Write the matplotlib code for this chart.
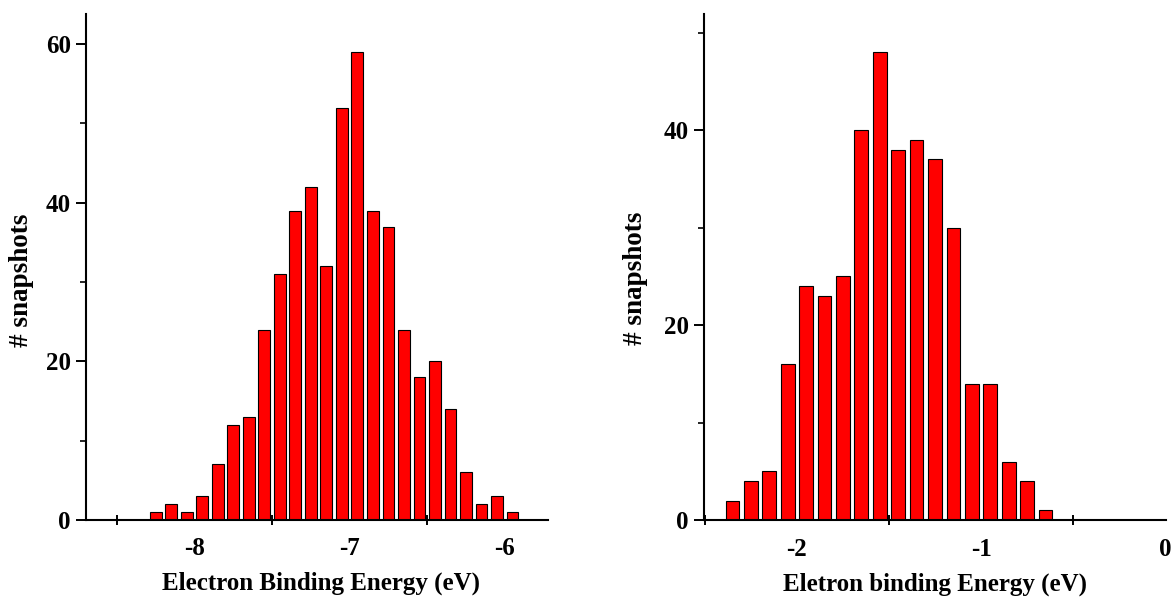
import matplotlib
matplotlib.use("Agg")
import matplotlib.pyplot as plt
from matplotlib.ticker import FixedLocator, NullFormatter

# Left histogram: Electron Binding Energy (eV)
left_centers = [-8.25, -8.15, -8.05, -7.95, -7.85, -7.75, -7.65, -7.55, -7.45, -7.35,
                -7.25, -7.15, -7.05, -6.95, -6.85, -6.75, -6.65, -6.55, -6.45, -6.35,
                -6.25, -6.15, -6.05, -5.95]
left_counts = [1, 2, 1, 3, 7, 12, 13, 24, 31, 39, 42, 32, 52, 59, 39, 37, 24, 18, 20, 14,
               6, 2, 3, 1]

# Right histogram: Eletron binding Energy (eV)
right_centers = [-2.35, -2.25, -2.15, -2.05, -1.95, -1.85, -1.75, -1.65, -1.55, -1.45,
                 -1.35, -1.25, -1.15, -1.05, -0.95, -0.85, -0.75, -0.65]
right_counts = [2, 4, 5, 16, 24, 23, 25, 40, 48, 38, 39, 37, 30, 14, 14, 6, 4, 1]

left_xticks = [-8, -7, -6]
left_xminor = [-8.5, -7.5, -6.5]
left_yticks = [0, 20, 40, 60]
left_yminor = [10, 30, 50]
right_xticks = [-2, -1, 0]
right_xminor = [-2.5, -1.5, -0.5]
right_yticks = [0, 20, 40]
right_yminor = [10, 30, 50]

plt.rcParams['font.family'] = ['Liberation Serif', 'DejaVu Serif']
plt.rcParams['font.weight'] = 'bold'
plt.rcParams['axes.unicode_minus'] = False

fig = plt.figure(figsize=(11.75, 5.97), dpi=100)
W, H = 1175, 597
axL = fig.add_axes([86 / W, 1 - 520 / H, (548 - 86) / W, (520 - 14) / H])
axR = fig.add_axes([704 / W, 1 - 520 / H, (1166 - 704) / W, (520 - 14) / H])


def style(ax, centers, counts, xlim, ylim, xt, xm, yt, ym, xlabel,
          xpad, xlab_xy, ylab_xy):
    ax.bar(centers, counts, width=0.075, color='#ff0000', edgecolor='black', linewidth=0.8)
    ax.set_xlim(*xlim)
    ax.set_ylim(*ylim)
    for s in ('top', 'right'):
        ax.spines[s].set_visible(False)
    for s in ('left', 'bottom'):
        ax.spines[s].set_linewidth(1.5)
    ax.xaxis.set_major_locator(FixedLocator(xt))
    ax.xaxis.set_minor_locator(FixedLocator(xm))
    ax.yaxis.set_major_locator(FixedLocator(yt))
    ax.yaxis.set_minor_locator(FixedLocator(ym))
    ax.xaxis.set_minor_formatter(NullFormatter())
    ax.yaxis.set_minor_formatter(NullFormatter())
    ax.tick_params(axis='x', which='major', length=0, pad=xpad, labelsize=18)
    ax.tick_params(axis='x', which='minor', direction='inout', length=7.5, width=1.4)
    ax.tick_params(axis='y', which='major', direction='out', length=7, width=1.4,
                   labelsize=18, pad=4)
    ax.tick_params(axis='y', which='minor', direction='out', length=4, width=1.2)
    for lab in ax.get_xticklabels() + ax.get_yticklabels():
        lab.set_fontweight('bold')
    ax.set_xlabel(xlabel, fontsize=18, fontweight='bold', va='baseline')
    ax.xaxis.set_label_coords(*xlab_xy)
    ax.set_ylabel('# snapshots', fontsize=19.5, fontweight='bold', va='center')
    ax.yaxis.set_label_coords(*ylab_xy)


style(axL, left_centers, left_counts, (-8.7, -5.72), (0, 63.8),
      left_xticks, left_xminor, left_yticks, left_yminor,
      'Electron Binding Energy (eV)', 12,
      ((321.5 - 86) / 462, (520 - 590) / 506),
      ((22 - 86) / 462, (520 - 280) / 506))
style(axR, right_centers, right_counts, (-2.505, 0.005), (0, 51.9),
      right_xticks, right_xminor, right_yticks, right_yminor,
      'Eletron binding Energy (eV)', 13,
      (0.5, (520 - 591) / 506),
      ((636 - 704) / 462, (520 - 278) / 506))

fig.savefig('out.png', dpi=100)
